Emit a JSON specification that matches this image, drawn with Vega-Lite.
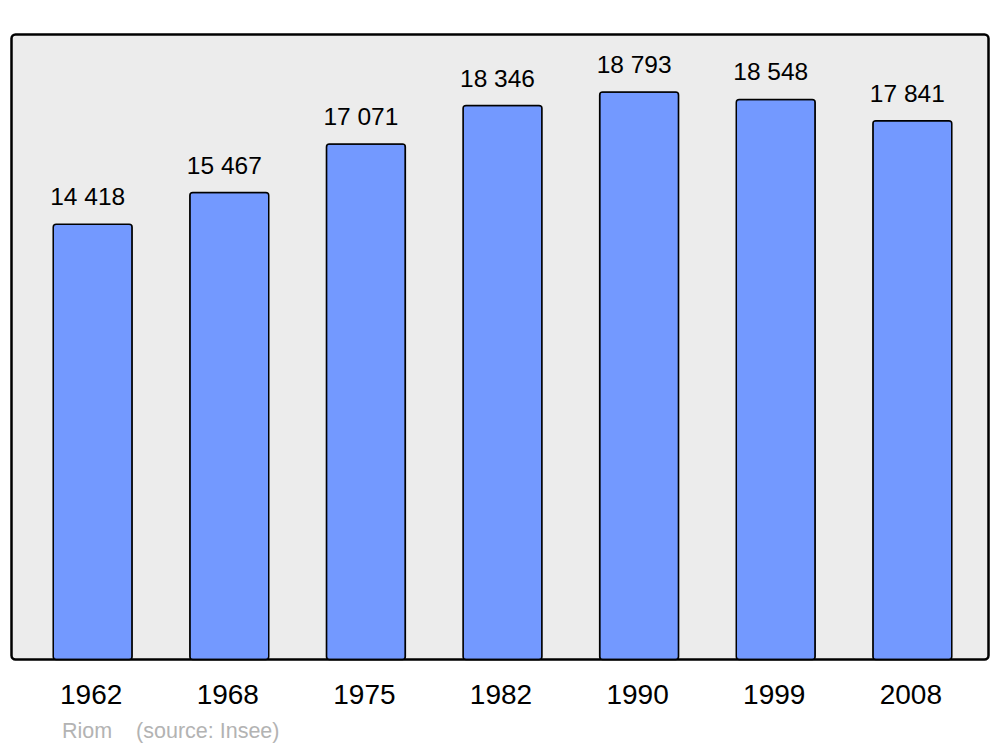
{
  "$schema": "https://vega.github.io/schema/vega-lite/v6.json",
  "width": 977,
  "height": 625,
  "autosize": {"type": "none"},
  "padding": {"left": 11.5, "top": 34.5, "right": 11.5, "bottom": 87.5},
  "background": "#ffffff",
  "config": {
    "view": {"fill": "#ececec", "stroke": "#000000", "strokeWidth": 2.5, "cornerRadius": 4},
    "font": "Liberation Sans"
  },
  "data": {
    "values": [
      {"year": "1962", "pop": 14418, "label": "14 418"},
      {"year": "1968", "pop": 15467, "label": "15 467"},
      {"year": "1975", "pop": 17071, "label": "17 071"},
      {"year": "1982", "pop": 18346, "label": "18 346"},
      {"year": "1990", "pop": 18793, "label": "18 793"},
      {"year": "1999", "pop": 18548, "label": "18 548"},
      {"year": "2008", "pop": 17841, "label": "17 841"}
    ]
  },
  "encoding": {
    "x": {
      "field": "year",
      "type": "nominal",
      "sort": null,
      "scale": {"paddingInner": 0.4223, "paddingOuter": 0.287, "align": 0.532},
      "axis": {
        "title": "Riom\u00a0\u00a0\u00a0\u00a0(source: Insee)",
        "titleFont": "Liberation Sans",
        "titleFontSize": 21.5,
        "titleFontWeight": "normal",
        "titleColor": "#b3b3b3",
        "titleAnchor": "start",
        "titleAlign": "left",
        "titleBaseline": "alphabetic",
        "titleX": 50,
        "titleY": 78,
        "labelFont": "Liberation Sans",
        "labelFontSize": 28,
        "labelColor": "#000000",
        "labelAngle": 0,
        "labelBaseline": "alphabetic",
        "labelPadding": 44,
        "labelOffset": -1.5,
        "ticks": false,
        "domain": false,
        "grid": false
      }
    },
    "y": {
      "field": "pop",
      "type": "quantitative",
      "scale": {"domain": [0, 20700], "nice": false, "zero": true},
      "axis": null
    }
  },
  "layer": [
    {
      "mark": {"type": "bar", "fill": "#7399ff", "stroke": "#000000", "strokeWidth": 1.5, "cornerRadius": 3}
    },
    {
      "mark": {"type": "text", "fontSize": 24.5, "font": "Liberation Sans", "color": "#000000", "baseline": "alphabetic", "dy": -19, "dx": -5},
      "encoding": {"text": {"field": "label"}}
    }
  ]
}
